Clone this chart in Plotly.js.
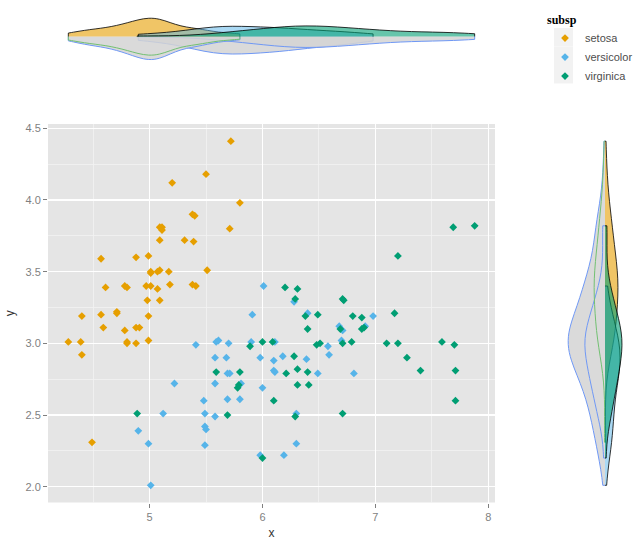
<!DOCTYPE html>
<html>
<head>
<meta charset="utf-8">
<script src="https://cdn.plot.ly/plotly-3.0.1.min.js"></script>
<style>html,body{margin:0;padding:0;background:#fff;}#chart{width:640px;height:546px;}</style>
</head>
<body>
<div id="chart"></div>
<script>
// ---- data (jittered sepal length x / sepal width y) ----
var species = ["setosa", "versicolor", "virginica"];

var setosaX = [5.50,5.20,5.38,5.40,5.09,5.11,5.11,5.09,5.31,5.39,4.57,4.88,4.99,5.51,5.01,5.01,5.07,5.09,5.17,4.61,
               4.78,4.80,4.97,5.01,5.07,5.18,5.38,5.41,4.98,5.09,4.40,4.57,4.71,4.71,4.99,4.59,4.78,4.88,4.91,4.28,
               4.39,4.80,4.80,4.88,4.99,4.40,4.49,5.72,5.80,5.71];
var setosaY = [4.18,4.12,3.90,3.89,3.81,3.81,3.79,3.72,3.72,3.71,3.59,3.60,3.61,3.51,3.50,3.49,3.50,3.51,3.50,3.39,
               3.40,3.39,3.40,3.40,3.38,3.41,3.41,3.40,3.30,3.30,3.19,3.20,3.22,3.21,3.19,3.11,3.09,3.11,3.11,3.01,
               3.01,3.01,3.00,3.00,3.02,2.92,2.31,4.41,3.98,3.80];

var versicolorX = [5.41,5.22,5.48,5.49,5.12,5.49,5.50,4.90,4.99,5.49,5.01,6.01,6.28,5.91,6.40,6.68,6.71,6.70,6.58,5.59,
                   5.61,5.70,5.90,6.11,5.58,5.68,5.98,6.18,6.39,6.59,6.10,5.69,5.71,6.10,6.11,6.49,5.58,5.81,6.00,5.69,
                   5.80,5.58,6.30,6.30,5.98,6.19,6.98,6.91,6.81];
var versicolorY = [2.99,2.72,2.60,2.51,2.51,2.42,2.40,2.39,2.30,2.29,2.01,3.40,3.29,3.20,3.21,3.12,3.09,3.02,2.98,3.01,
                   3.02,3.00,3.01,3.01,2.90,2.90,2.90,2.91,2.89,2.92,2.88,2.79,2.79,2.81,2.80,2.79,2.72,2.72,2.69,2.61,
                   2.61,2.49,2.51,2.30,2.22,2.22,3.19,3.12,2.79];

var virginicaX = [4.89,6.20,6.31,6.29,6.71,6.72,6.38,6.49,6.40,6.69,6.71,5.89,6.00,6.09,6.48,6.51,6.79,6.28,5.59,5.80,
                  6.21,6.31,6.40,5.79,5.78,6.31,6.41,6.10,5.69,6.29,6.71,6.00,7.69,7.88,7.20,6.80,6.88,7.17,6.88,6.90,
                  7.10,7.20,7.59,7.70,7.28,7.40,7.71,7.71];
var virginicaY = [2.51,3.39,3.38,3.31,3.31,3.30,3.19,3.20,3.10,3.10,3.00,2.98,3.01,3.01,2.99,3.00,3.01,2.91,2.80,2.80,
                  2.79,2.82,2.80,2.71,2.69,2.71,2.71,2.60,2.50,2.49,2.51,2.20,3.81,3.82,3.61,3.19,3.18,3.21,3.10,3.11,
                  3.00,3.00,3.01,2.99,2.90,2.81,2.81,2.60];

var xTickVals = [5, 6, 7, 8];
var yTickVals = [2.0, 2.5, 3.0, 3.5, 4.0, 4.5];

// ---- styling ----
var colors = {setosa: "#E69F00", versicolor: "#56B4E9", virginica: "#009E73"};
var fills  = {setosa: "rgba(230,159,0,0.6)", versicolor: "rgba(86,180,233,0.5)", virginica: "rgba(0,158,115,0.6)"};
var xs = {setosa: setosaX, versicolor: versicolorX, virginica: virginicaX};
var ys = {setosa: setosaY, versicolor: versicolorY, virginica: virginicaY};
var allY = setosaY.concat(versicolorY, virginicaY);

var GREY = "rgba(211,211,211,0.85)";
var BLUE = "#6f98f5", GREEN = "#72c072";

var traces = [];
species.forEach(function (s) {
  traces.push({
    type: "scatter", mode: "markers", name: s, x: xs[s], y: ys[s],
    xaxis: "x", yaxis: "y",
    marker: {symbol: "diamond", size: 6, color: colors[s]},
    hoverinfo: "x+y"
  });
});

function hv(data, side, width, fill, lineColor, lw) {
  return {type: "violin", orientation: "h", x: data, y0: 0, xaxis: "x2", yaxis: "y2",
          side: side, spanmode: "hard", scalemode: "width", width: width,
          fillcolor: fill, line: {color: lineColor, width: lw},
          points: false, showlegend: false, hoverinfo: "skip"};
}
function vv(data, side, width, fill, lineColor, lw) {
  return {type: "violin", orientation: "v", y: data, x0: 0, xaxis: "x3", yaxis: "y3",
          side: side, spanmode: "hard", scalemode: "width", width: width,
          fillcolor: fill, line: {color: lineColor, width: lw},
          points: false, showlegend: false, hoverinfo: "skip"};
}

// top panel, lower grey half
traces.push(hv(versicolorX, "negative", 0.96, GREY, BLUE, 1));
traces.push(hv(virginicaX, "negative", 0.60, GREY, BLUE, 1));
traces.push(hv(setosaX, "negative", 1.26, GREY, BLUE, 1));
traces.push(hv(setosaX, "negative", 1.02, "rgba(0,0,0,0)", GREEN, 1));
// top panel, upper coloured half
traces.push(hv(setosaX, "positive", 1.0, fills.setosa, "#000", 0.8));
traces.push(hv(versicolorX, "positive", 0.56, fills.versicolor, "#000", 0.8));
traces.push(hv(virginicaX, "positive", 0.58, fills.virginica, "#000", 0.8));

// right panel, left grey half
traces.push(vv(allY, "negative", 2.1, GREY, BLUE, 1));
traces.push(vv(virginicaY, "negative", 1.15, "rgba(0,0,0,0)", BLUE, 1));
traces.push(vv(setosaY, "negative", 0.62, "rgba(0,0,0,0)", GREEN, 1));
// right panel, right coloured half
traces.push(vv(setosaY, "positive", 0.74, fills.setosa, "#000", 0.8));
traces.push(vv(versicolorY, "positive", 0.86, fills.versicolor, "#000", 0.8));
traces.push(vv(virginicaY, "positive", 0.97, fills.virginica, "#000", 0.8));

var W = 640, H = 546;
function fx(px) { return px / W; }
function fy(py) { return 1 - py / H; }

var tickFont = {family: "Liberation Sans, Arial, sans-serif", size: 11, color: "#7f7f7f"};
var shapes = [{type: "rect", xref: "x domain", yref: "y domain", x0: 0, x1: 1, y0: 0, y1: 1,
               fillcolor: "#e5e5e5", line: {width: 0}, layer: "below"}];
[28, 46.5, 65].forEach(function (t) {
  shapes.push({type: "rect", xref: "paper", yref: "paper", x0: fx(554), x1: fx(573), y0: fy(t + 18.5), y1: fy(t),
               fillcolor: "#f2f2f2", line: {width: 0}, layer: "below"});
});

var layout = {
  width: W, height: H, autosize: false,
  margin: {l: 0, r: 0, t: 0, b: 0},
  paper_bgcolor: "#ffffff", plot_bgcolor: "rgba(0,0,0,0)",
  violinmode: "overlay", violingap: 0,
  font: {family: "Liberation Sans, Arial, sans-serif", size: 11, color: "#333333"},
  xaxis: {
    domain: [fx(48), fx(495)], range: [4.10, 8.06], anchor: "y",
    tickvals: xTickVals, ticks: "outside", ticklen: 4, tickcolor: "#7f7f7f", tickwidth: 1,
    tickfont: tickFont, showgrid: true, gridcolor: "#ffffff", gridwidth: 1.3, zeroline: false,
    minor: {dtick: 0.5, tick0: 0, showgrid: true, gridcolor: "#f2f2f2", gridwidth: 0.8, ticklen: 0},
    showline: false,
    title: {text: "x", font: {size: 12, color: "#333333"}, standoff: 6}
  },
  yaxis: {
    domain: [fy(502.5), fy(124)], range: [1.89, 4.53], anchor: "x",
    tickvals: yTickVals, tickformat: ".1f", ticks: "outside", ticklen: 4, tickcolor: "#7f7f7f", tickwidth: 1,
    tickfont: tickFont, showgrid: true, gridcolor: "#ffffff", gridwidth: 1.3, zeroline: false,
    minor: {dtick: 0.25, tick0: 0, showgrid: true, gridcolor: "#f2f2f2", gridwidth: 0.8, ticklen: 0},
    showline: false,
    title: {text: "y", font: {size: 12, color: "#333333"}, standoff: 8}
  },
  xaxis2: {domain: [fx(48), fx(495)], range: [4.10, 8.06], anchor: "y2", visible: false, showgrid: false},
  yaxis2: {domain: [fy(73), fy(0)], range: [-1, 1], anchor: "x2", visible: false, type: "linear", showgrid: false},
  xaxis3: {domain: [fx(560), fx(640)], range: [-1.2857, 1], anchor: "y3", visible: false, type: "linear", showgrid: false},
  yaxis3: {domain: [fy(502.5), fy(124)], range: [1.89, 4.53], anchor: "x3", visible: false, showgrid: false},
  legend: {
    x: fx(545), y: fy(8), xanchor: "left", yanchor: "top",
    bgcolor: "rgba(0,0,0,0)", itemwidth: 30, tracegroupgap: 0,
    font: {size: 11, color: "#4d4d4d"},
    title: {text: "<b>subsp</b>", font: {size: 12, color: "#000000", family: "Liberation Serif, serif"}}
  },
  shapes: shapes
};

Plotly.newPlot("chart", traces, layout, {displayModeBar: false, staticPlot: true});
</script>
</body>
</html>
